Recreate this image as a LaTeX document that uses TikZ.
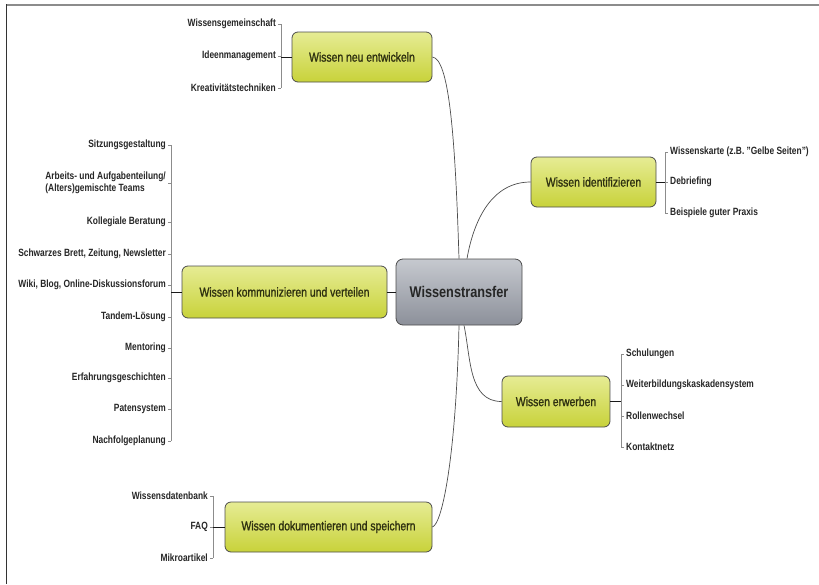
\documentclass[tikz,border=0pt]{standalone}
\usepackage{fontspec}
\setmainfont{Liberation Sans}[FakeStretch=0.80]
\newfontfamily\nodefont{Liberation Sans}[FakeStretch=0.80, FakeBold=1.2]
\newfontfamily\corefont{Liberation Sans}[FakeStretch=0.82]
\begin{document}
\begin{tikzpicture}[x=1pt,y=-1pt,
  lbl/.style={inner sep=1pt, font=\bfseries\fontsize{10.5}{11.5}\selectfont, text=black!85},
  branch/.style={draw=black!70, line width=0.8pt, rounded corners=6pt, top color=yellowtop, bottom color=yellowbot, text=olivetext, font=\nodefont\fontsize{13}{14}\selectfont},
  core/.style={draw=black!70, line width=0.8pt, rounded corners=7pt, top color=graytop, bottom color=graybot, text=black!85, font=\corefont\bfseries\fontsize{15.5}{17}\selectfont},
  brk/.style={draw=black!45, line width=0.8pt},
  con/.style={draw=black!90, line width=0.9pt},
  curve/.style={draw=black!70, line width=0.7pt}]
\definecolor{yellowtop}{HTML}{E6EC94}
\definecolor{yellowbot}{HTML}{C8D23A}
\definecolor{graytop}{HTML}{C6C9CF}
\definecolor{graybot}{HTML}{8C909A}
\definecolor{olivetext}{HTML}{2E3010}
\useasboundingbox (0,0) rectangle (819,584);
% frame
\draw[draw=black!45, line width=2pt] (6,5) -- (819,5);
\draw[draw=black!80, line width=1.5pt] (6.5,4) -- (6.5,584);

% core
\node[core, minimum width=126, minimum height=66] (ct) at (459,292) {Wissenstransfer};

% branches
\node[branch, minimum width=140, minimum height=50] (ne) at (362,57) {Wissen neu entwickeln};
\node[branch, minimum width=125, minimum height=50] (id) at (593.5,182) {Wissen identifizieren};
\node[branch, minimum width=205, minimum height=52] (ko) at (284.5,292) {Wissen kommunizieren und verteilen};
\node[branch, minimum width=108, minimum height=51] (ew) at (556,401.5) {Wissen erwerben};
\node[branch, minimum width=207, minimum height=50] (dk) at (328.5,527) {Wissen dokumentieren und speichern};

% curves
\draw[curve] (ne.east) .. controls +(16,2) and +(-4,-130) .. (ct.north);
\draw[curve] ([xshift=8]ct.north) to[out=80,in=180] (id.west);
\draw[curve] (ct.south) .. controls +(-3,130) and +(10,-3) .. (dk.east);
\draw[curve] ([xshift=5]ct.south) to[out=-78,in=180] (ew.west);
\draw[con] (ct.west) -- (ko.east);

% --- neu entwickeln
\coordinate (bA1) at (281,24); \coordinate (bA2) at (281,88);
\node[lbl, anchor=east] (a1) at (277,24) {Wissensgemeinschaft};
\node[lbl, anchor=east] (a2) at (277,56) {Ideenmanagement};
\node[lbl, anchor=east] (a3) at (277,88) {Kreativitätstechniken};
\draw[brk] (bA1) -- (bA2);
\foreach \n in {a1,a2,a3} \draw[brk] ([xshift=1]\n.east) -- (\n.east -| bA1);
\draw[con] (ne.west) -- (ne.west -| bA1);

% --- identifizieren
\coordinate (bB1) at (665,152); \coordinate (bB2) at (665,213);
\node[lbl, anchor=west] (b1) at (669,152) {Wissenskarte (z.B. "Gelbe Seiten")};
\node[lbl, anchor=west] (b2) at (669,182) {Debriefing};
\node[lbl, anchor=west] (b3) at (669,213) {Beispiele guter Praxis};
\draw[brk] (bB1) -- (bB2);
\foreach \n in {b1,b2,b3} \draw[brk] ([xshift=-1]\n.west) -- (\n.west -| bB1);
\draw[con] (id.east) -- (id.east -| bB1);

% --- kommunizieren
\coordinate (bC1) at (171,145); \coordinate (bC2) at (171,441);
\node[lbl, anchor=east] (c1) at (167,145) {Sitzungsgestaltung};
\node[lbl, anchor=east, align=left] (c2) at (167,183) {Arbeits- und Aufgabenteilung/\\(Alters)gemischte Teams};
\node[lbl, anchor=east] (c3) at (167,222) {Kollegiale Beratung};
\node[lbl, anchor=east] (c4) at (167,254) {Schwarzes Brett, Zeitung, Newsletter};
\node[lbl, anchor=east] (c5) at (167,285) {Wiki, Blog, Online-Diskussionsforum};
\node[lbl, anchor=east] (c6) at (167,317) {Tandem-Lösung};
\node[lbl, anchor=east] (c7) at (167,348) {Mentoring};
\node[lbl, anchor=east] (c8) at (167,378) {Erfahrungsgeschichten};
\node[lbl, anchor=east] (c9) at (167,409) {Patensystem};
\node[lbl, anchor=east] (c10) at (167,441) {Nachfolgeplanung};
\draw[brk] (bC1) -- (bC2);
\foreach \n in {c1,c2,c3,c4,c5,c6,c7,c8,c9,c10} \draw[brk] ([xshift=1]\n.east) -- (\n.east -| bC1);
\draw[con] (ko.west) -- (ko.west -| bC1);

% --- erwerben
\coordinate (bD1) at (621,354); \coordinate (bD2) at (621,447);
\node[lbl, anchor=west] (d1) at (625,354) {Schulungen};
\node[lbl, anchor=west] (d2) at (625,385) {Weiterbildungskaskadensystem};
\node[lbl, anchor=west] (d3) at (625,416) {Rollenwechsel};
\node[lbl, anchor=west] (d4) at (625,447) {Kontaktnetz};
\draw[brk] (bD1) -- (bD2);
\foreach \n in {d1,d2,d3,d4} \draw[brk] ([xshift=-1]\n.west) -- (\n.west -| bD1);
\draw[con] (ew.east) -- (ew.east -| bD1);

% --- dokumentieren
\coordinate (bE1) at (213,496); \coordinate (bE2) at (213,558);
\node[lbl, anchor=east] (e1) at (209,496) {Wissensdatenbank};
\node[lbl, anchor=east] (e2) at (209,527) {FAQ};
\node[lbl, anchor=east] (e3) at (209,558) {Mikroartikel};
\draw[brk] (bE1) -- (bE2);
\foreach \n in {e1,e2,e3} \draw[brk] ([xshift=1]\n.east) -- (\n.east -| bE1);
\draw[con] (dk.west) -- (dk.west -| bE1);
\end{tikzpicture}
\end{document}
